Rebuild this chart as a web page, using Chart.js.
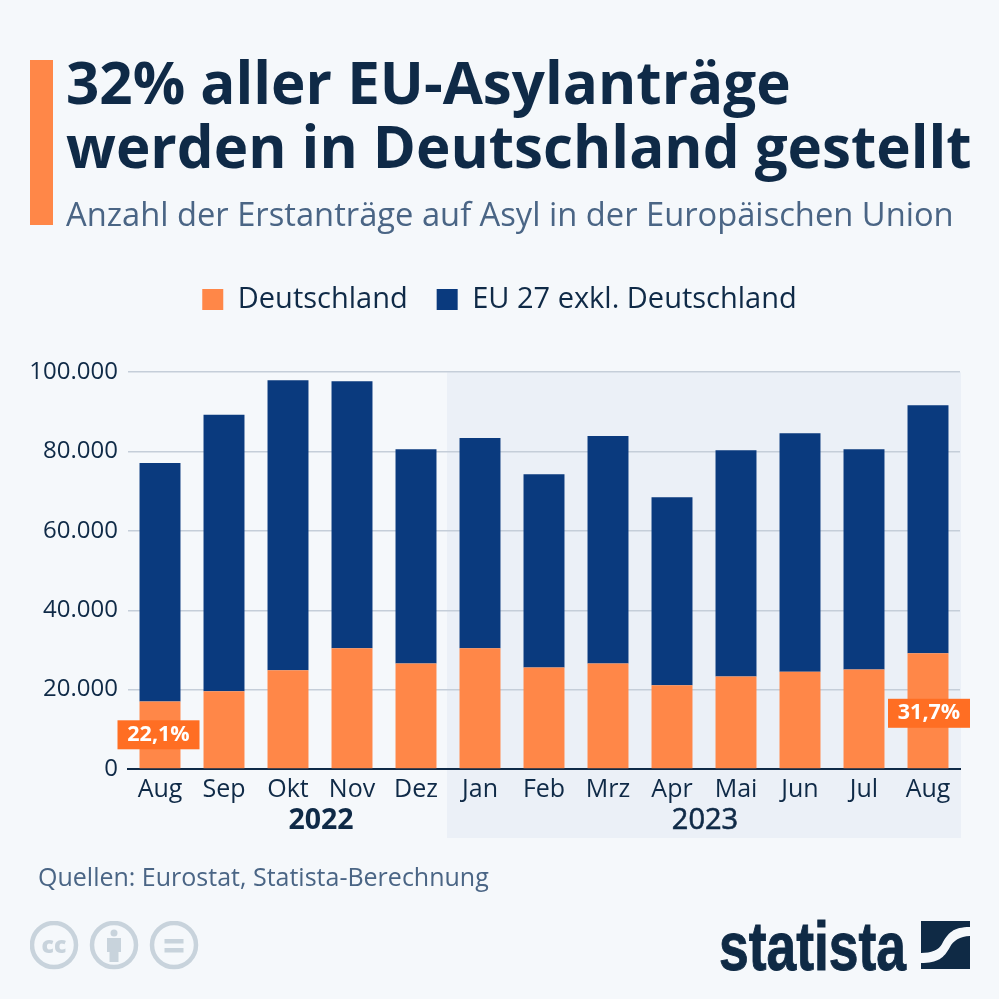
<!DOCTYPE html>
<html lang="de">
<head>
<meta charset="utf-8">
<title>EU-Asylanträge</title>
<script src="https://cdn.jsdelivr.net/npm/chart.js@4"></script>
<style>
html,body{margin:0;padding:0;background:#f5f8fb;}
#wrap{position:relative;width:999px;height:999px;overflow:hidden;font-family:"Open Sans",sans-serif;}
#c{position:absolute;left:0;top:0;}
.txt{position:absolute;white-space:nowrap;}
#accent{position:absolute;left:30px;top:60px;width:23px;height:165px;background:#ff8748;}
#title{left:66px;top:50px;font-size:58.300px;line-height:64px;font-weight:700;color:#0f2a47;}
#sub{left:66px;top:193px;font-size:32.700px;line-height:42px;color:#4a6585;}
#src{left:38px;top:860px;font-size:25px;line-height:32px;color:#4a6585;}
#logo{left:719px;top:911px;font-family:"Liberation Sans",sans-serif;font-weight:700;font-size:68px;line-height:70px;color:#0f2a45;transform:scaleX(.785);transform-origin:left top;-webkit-text-stroke:1px #0f2a45;}
#icons{position:absolute;left:30px;top:921px;}
#mark{position:absolute;left:921px;top:921px;}
</style>
</head>
<body>
<div id="wrap">
  <canvas id="c" width="999" height="999"></canvas>
  <div id="accent"></div>
  <div id="title" class="txt">32% aller EU-Asylanträge<br>werden in Deutschland gestellt</div>
  <div id="sub" class="txt">Anzahl der Erstanträge auf Asyl in der Europäischen Union</div>
  <div id="src" class="txt">Quellen: Eurostat, Statista-Berechnung</div>
  <svg id="icons" width="170" height="50" viewBox="0 0 170 50">
    <g fill="none" stroke="#c8d3dc" stroke-width="4.5">
      <circle cx="24" cy="24" r="22"/><circle cx="84" cy="24" r="22"/><circle cx="144" cy="24" r="22"/>
    </g>
    <text x="24" y="32" text-anchor="middle" font-family="Open Sans" font-weight="800" font-size="23" fill="#c8d3dc">cc</text>
    <g fill="#c8d3dc">
      <circle cx="84" cy="12" r="3.500"/>
      <rect x="77" y="17" width="14" height="14"/><rect x="79.500" y="29" width="9" height="12"/>
      <rect x="134.500" y="18" width="19" height="4.500"/><rect x="134.500" y="27" width="19" height="4.500"/>
    </g>
  </svg>
  <div id="logo" class="txt">statista</div>
  <svg id="mark" width="49" height="48" viewBox="0 0 49 48">
    <path fill="#0f2a45" d="M0 0H49V6C32 6 27 12 21 23C18 29 10 32 0 32Z"/>
    <path fill="#0f2a45" d="M49 15V48H0V42C17 42 23 37 29 26C32 20 39 15 49 15Z"/>
  </svg>
</div>
<script>
const months=["Aug","Sep","Okt","Nov","Dez","Jan","Feb","Mrz","Apr","Mai","Jun","Jul","Aug"];
const deutschland=[17000,19600,24900,30400,26600,30400,25600,26600,21100,23300,24500,25100,29200];
const euOhneDe=[60100,69700,73100,67300,54000,53000,48700,57300,47400,57000,60100,55500,62500];
const yTicks=["0","20.000","40.000","60.000","80.000","100.000"];
const years=["2022","2023"];
const badges=["22,1%",null,null,null,null,null,null,null,null,null,null,null,"31,7%"];

const ORANGE="#ff8748", NAVY="#0a3a7e", DARK="#0f2a47";

const extras={
  id:"extras",
  afterLayout(chart){
    // Legende auf die Seitenmitte schieben (Padding links/rechts ungleich)
    chart.legend.left+=5.500;
    chart.legend.right+=5.500;
  },
  beforeDraw(chart){
    const {ctx,scales:{x},chartArea:a}=chart;
    const left=(x.getPixelForValue(4)+x.getPixelForValue(5))/2-1;
    ctx.save();
    ctx.fillStyle="#ebf0f7";
    ctx.fillRect(left,a.top,a.right+1-left,838-a.top);
    ctx.restore();
  },
  afterDraw(chart){
    const {ctx,scales:{x,y}}=chart;
    ctx.save();
    ctx.textAlign="center";ctx.textBaseline="middle";
    ctx.fillStyle=DARK;
    ctx.font="700 28.500px 'Open Sans'";
    ctx.fillText(years[0],(x.getPixelForValue(2)+x.getPixelForValue(3))/2+1,821);
    // 2023 etwas kraeftiger als regular
    const x23=(x.getPixelForValue(8)+x.getPixelForValue(9))/2+1;
    ctx.font="400 29px 'Open Sans'";
    ctx.strokeStyle=DARK;ctx.lineWidth=0.600;
    ctx.fillText(years[1],x23,821);
    ctx.strokeText(years[1],x23,821);
    // Prozent-Badges
    badges.forEach((b,i)=>{
      if(!b)return;
      const cx=x.getPixelForValue(i)+(i==0?-1.500:1), cy=y.getPixelForValue(i==0?8620:14040);
      ctx.fillStyle="#ff6e23";
      ctx.fillRect(cx-41,cy-14.500,82,29);
      ctx.fillStyle="#fff";
      ctx.font="700 21.500px 'Open Sans'";
      ctx.fillText(b,cx,cy);
    });
    ctx.restore();
  }
};

Chart.defaults.font.family="'Open Sans'";
Chart.defaults.color=DARK;

new Chart(document.getElementById("c").getContext("2d"),{
  type:"bar",
  data:{
    labels:months,
    datasets:[
      {label:"Deutschland",data:deutschland,backgroundColor:ORANGE},
      {label:"EU 27 exkl. Deutschland",data:euOhneDe,backgroundColor:NAVY}
    ]
  },
  options:{
    responsive:false,
    animation:false,
    barPercentage:0.64,
    categoryPercentage:1,
    layout:{padding:{left:28,right:39,top:256,bottom:170}},
    plugins:{
      tooltip:{enabled:false},
      // leerer Titel nur als Abstand zwischen Legende und Plot
      title:{display:true,text:"",weight:500,font:{size:1},padding:{top:0,bottom:47}},
      legend:{
        position:"top",
        labels:{boxWidth:21,boxHeight:21,padding:29,font:{size:29},color:DARK}
      }
    },
    scales:{
      x:{
        stacked:true,
        afterFit(s){s.height=60;},
        grid:{display:false},
        border:{color:DARK,width:2},
        ticks:{font:{size:25},color:DARK,padding:-2,maxRotation:0,autoSkip:false}
      },
      y:{
        stacked:true,
        min:0,max:100000,
        afterFit(s){s.width=100;},
        grid:{color(c){return c.tick.value===0?"rgba(0,0,0,0)":"#c5ced9";},lineWidth:1.500,drawTicks:false},
        border:{display:false},
        ticks:{
          stepSize:20000,padding:10,font:{size:24},color:DARK,
          callback(v){return yTicks[v/20000];}
        }
      }
    }
  },
  plugins:[extras]
});
</script>
</body>
</html>
